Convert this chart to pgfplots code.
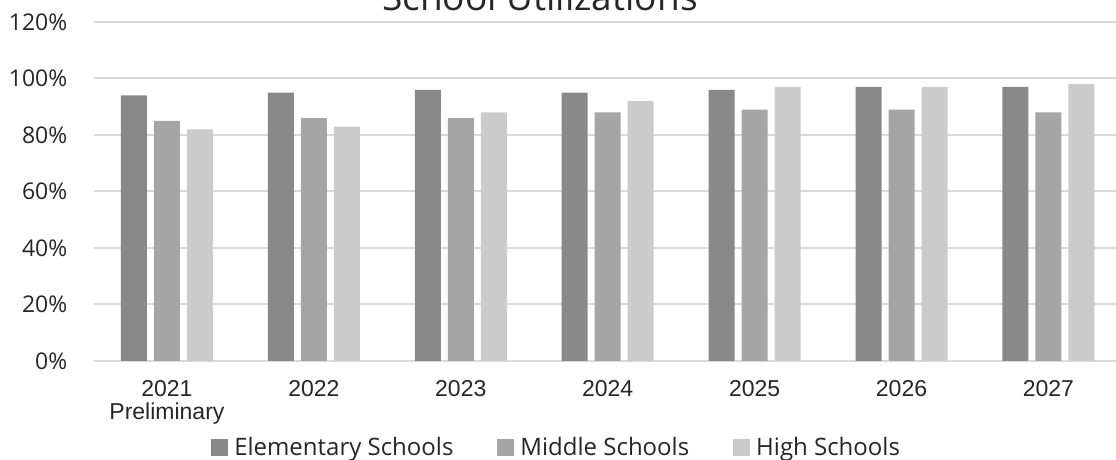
\documentclass[border=0pt]{standalone}
\usepackage{pgfplots}
\pgfplotsset{compat=1.18}
\usepackage{fontspec}
\setmainfont{Open Sans}
\newfontfamily\arialfont{Liberation Sans}
\definecolor{elem}{HTML}{898989}
\definecolor{mid}{HTML}{A5A5A5}
\definecolor{high}{HTML}{CBCBCB}
\definecolor{gridc}{HTML}{D9D9D9}
\definecolor{txt}{HTML}{262626}
\pgfplotsset{myleg/.style={legend image code/.code={\fill[##1] (0pt,-9pt) rectangle (17pt,8pt);}}}
\begin{document}
\begin{tikzpicture}[x=1pt,y=1pt]
\path[use as bounding box] (0,0) rectangle (1116,460);
\node[anchor=base, font=\fontsize{37}{37}\selectfont, text=txt, inner sep=0pt] at (540,449) {School Utilizations};
\begin{axis}[
  at={(93.5pt,99pt)}, anchor=south west,
  scale only axis, width=1022.5pt, height=339pt,
  xmin=-0.5, xmax=6.46, ymin=0, ymax=120,
  ybar=7pt, bar width=26pt,
  every axis plot/.append style={myleg},
  axis x line*=bottom, axis y line*=left,
  y axis line style={draw=none},
  x axis line style={draw=gridc, line width=2.5pt, -},
  ymajorgrids, grid style={draw=gridc, line width=2pt},
  major tick length=0pt,
  ytick={0,20,40,60,80,100,120},
  yticklabel={\pgfmathprintnumber{\tick}\%},
  /pgf/number format/assume math mode=true,
  xtick={0,1,2,3,4,5,6},
  xticklabels={{2021\\Preliminary},2022,2023,2024,2025,2026,2027},
  xticklabel style={align=center, font=\arialfont\fontsize{23}{23}\selectfont, text=txt, anchor=north, inner sep=0pt, yshift=-19pt},
  yticklabel style={font=\fontsize{23}{23}\selectfont, text=txt, anchor=east, inner sep=0pt, xshift=-26pt},
  legend columns=3,
  legend style={draw=none, fill=none, at={(axis description cs:0.115,-0.254)}, anchor=west, inner sep=0pt,
    font=\fontsize{24}{24}\selectfont, text=txt, nodes={inner sep=0pt},
    /tikz/every odd column/.append style={column sep=6pt},
    /tikz/every even column/.append style={column sep=44pt}},
]
\addplot[fill=elem, draw=none] coordinates {(0,94) (1,95) (2,96) (3,95) (4,96) (5,97) (6,97)};
\addplot[fill=mid, draw=none] coordinates {(0,85) (1,86) (2,86) (3,88) (4,89) (5,89) (6,88)};
\addplot[fill=high, draw=none] coordinates {(0,82) (1,83) (2,88) (3,92) (4,97) (5,97) (6,98)};
\legend{Elementary Schools, Middle Schools, High Schools}
\end{axis}
\end{tikzpicture}
\end{document}
